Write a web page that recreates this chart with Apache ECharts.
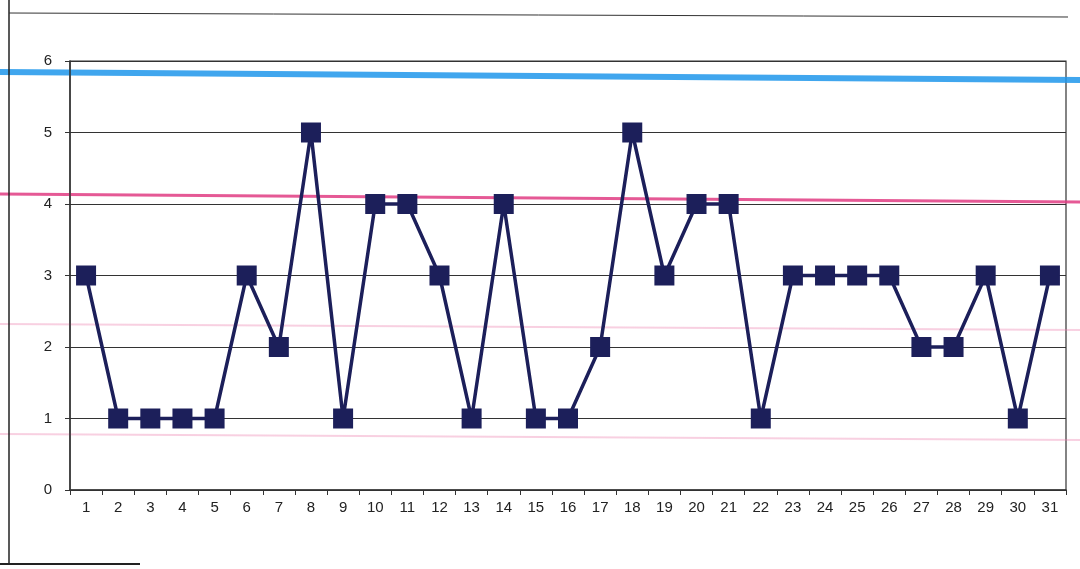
<!DOCTYPE html>
<html><head><meta charset="utf-8">
<script src="https://cdn.jsdelivr.net/npm/echarts@6/dist/echarts.min.js"></script>
<style>html,body{margin:0;padding:0;background:#fff}#c{width:1080px;height:569px}</style>
</head><body><div id="c"></div>
<script>
const categories = ['1','2','3','4','5','6','7','8','9','10','11','12','13','14','15','16','17','18','19','20','21','22','23','24','25','26','27','28','29','30','31'];
const values = [3,1,1,1,1,3,2,5,1,4,4,3,1,4,1,1,2,5,3,4,4,1,3,3,3,3,2,2,3,1,3];
const yTicks = [0,1,2,3,4,5,6];

const chart = echarts.init(document.getElementById('c'));
chart.setOption({
  animation: false,
  backgroundColor: '#ffffff',
  grid: {left: 70, right: 14, top: 61, bottom: 79, show: true, borderColor: '#333', borderWidth: 1.2, backgroundColor: 'transparent'},
  xAxis: {
    type: 'category', data: categories, boundaryGap: true,
    axisLine: {lineStyle: {color: '#333', width: 1.5}},
    axisTick: {show: true, length: 5, lineStyle: {color: '#333'}},
    axisLabel: {color: '#222', fontSize: 15, fontFamily: 'Liberation Sans, Arial', margin: 10}
  },
  yAxis: {
    type: 'value', min: yTicks[0], max: yTicks[yTicks.length-1], interval: 1,
    axisLine: {show: true, lineStyle: {color: '#333', width: 1.5}},
    axisTick: {show: true, length: 5, lineStyle: {color: '#333'}},
    axisLabel: {color: '#222', fontSize: 15, fontFamily: 'Liberation Sans, Arial', margin: 18},
    splitLine: {lineStyle: {color: '#333', width: 1.2}}
  },
  series: [{
    type: 'line', data: values,
    symbol: 'rect', symbolSize: 20,
    lineStyle: {color: '#1c1f5a', width: 3.5},
    itemStyle: {color: '#1c1f5a'}
  }],
  graphic: [
    {type: 'line', shape: {x1: 9, y1: 0, x2: 9, y2: 565}, style: {stroke: '#222', lineWidth: 1.5}, z: 10},
    {type: 'line', shape: {x1: 9, y1: 13, x2: 1068, y2: 17}, style: {stroke: '#333', lineWidth: 1}, z: 10},
    {type: 'line', shape: {x1: 0, y1: 564, x2: 140, y2: 564}, style: {stroke: '#222', lineWidth: 2}, z: 10},
    {type: 'line', shape: {x1: 0, y1: 72, x2: 1080, y2: 80}, style: {stroke: 'rgba(30,150,235,0.85)', lineWidth: 6}, z: 0},
    {type: 'line', shape: {x1: 0, y1: 194, x2: 1080, y2: 202}, style: {stroke: 'rgba(225,60,130,0.85)', lineWidth: 3}, z: 0},
    {type: 'line', shape: {x1: 0, y1: 324, x2: 1080, y2: 330}, style: {stroke: 'rgba(235,120,170,0.35)', lineWidth: 2}, z: 0},
    {type: 'line', shape: {x1: 0, y1: 434, x2: 1080, y2: 440}, style: {stroke: 'rgba(235,120,170,0.35)', lineWidth: 2}, z: 0}
  ]
});
</script></body></html>
